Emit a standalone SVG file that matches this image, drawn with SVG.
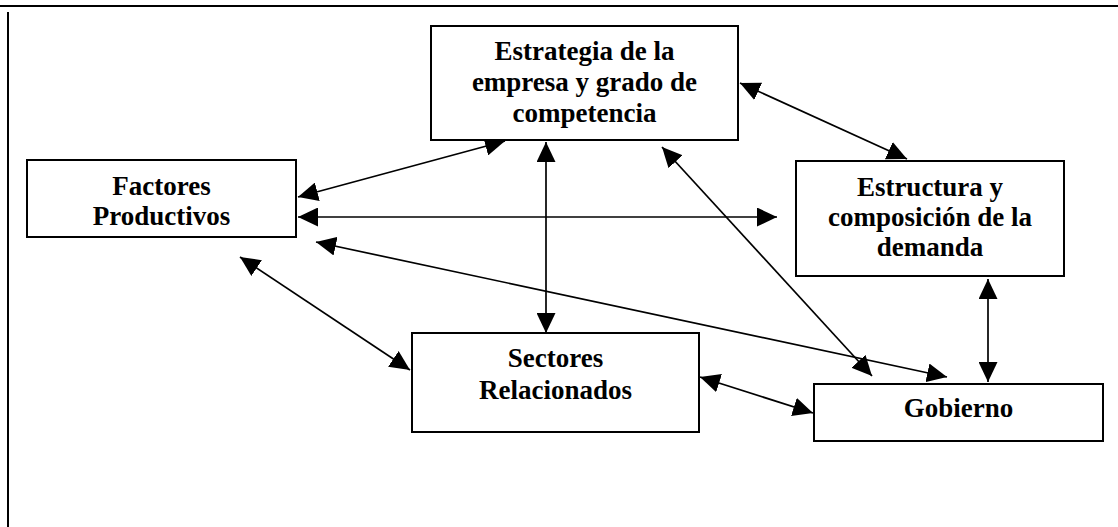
<svg xmlns="http://www.w3.org/2000/svg" width="1118" height="527" viewBox="0 0 1118 527">
<defs>
<style>
.box{fill:#fff;stroke:#000;stroke-width:2}
.t{font-family:"Liberation Serif","Times New Roman",serif;font-weight:bold;font-size:27px;text-anchor:middle;fill:#000}
.c{stroke:#000;stroke-width:1.7;fill:none;marker-start:url(#ah);marker-end:url(#ah)}
</style>
<marker id="ah" markerUnits="userSpaceOnUse" markerWidth="20" markerHeight="19" refX="20" refY="9.5" orient="auto-start-reverse" viewBox="0 0 20 19">
<path d="M0,0 L20,9.5 L0,19 z" fill="#000"/>
</marker>
</defs>
<rect width="1118" height="527" fill="#fff"/>
<line x1="0" y1="6" x2="1118" y2="6" stroke="#000" stroke-width="2.2"/>
<line x1="8" y1="12" x2="8" y2="527" stroke="#000" stroke-width="2"/>
<g id="connectors">
<line class="c" x1="298" y1="197" x2="505" y2="141"/>
<line class="c" x1="298" y1="217" x2="777" y2="217"/>
<line class="c" x1="316" y1="242" x2="947" y2="377"/>
<line class="c" x1="546" y1="142" x2="546" y2="333"/>
<line class="c" x1="240" y1="257" x2="410" y2="370"/>
<line class="c" x1="662" y1="147" x2="872" y2="376"/>
<line class="c" x1="740" y1="83" x2="907" y2="159"/>
<line class="c" x1="988" y1="279" x2="988" y2="382"/>
<line class="c" x1="700" y1="377" x2="813" y2="413"/>
</g>
<g id="estrategia">
<rect class="box" x="431" y="26" width="307" height="114"/>
<text class="t" x="584.5" y="60">Estrategia de la</text>
<text class="t" x="584.5" y="91">empresa y grado de</text>
<text class="t" x="584.5" y="122">competencia</text>
</g>
<g id="factores">
<rect class="box" x="27" y="160" width="269" height="77"/>
<text class="t" x="161.5" y="195">Factores</text>
<text class="t" x="161.5" y="225">Productivos</text>
</g>
<g id="estructura">
<rect class="box" x="796" y="161" width="268" height="115"/>
<text class="t" x="930" y="196">Estructura y</text>
<text class="t" x="930" y="226">composición de la</text>
<text class="t" x="930" y="256">demanda</text>
</g>
<g id="sectores">
<rect class="box" x="412" y="333" width="287" height="99"/>
<text class="t" x="555.5" y="367">Sectores</text>
<text class="t" x="555.5" y="399">Relacionados</text>
</g>
<g id="gobierno">
<rect class="box" x="814" y="384" width="289" height="57"/>
<text class="t" x="958.5" y="417">Gobierno</text>
</g>
</svg>
